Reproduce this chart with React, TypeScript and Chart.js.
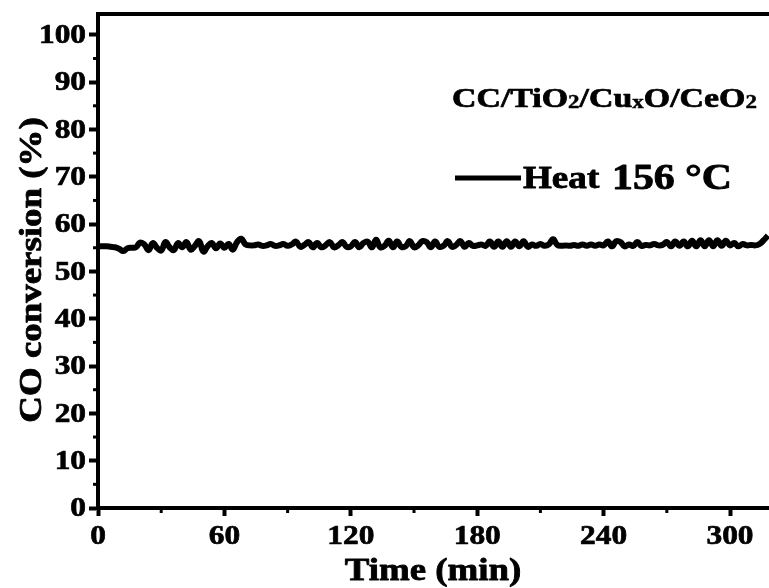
import React, { useEffect, useRef } from "react";
import { Chart, registerables } from "chart.js";

Chart.register(...registerables);

// ---- data ----
const times = [
  0, 2, 4, 6, 8, 10, 12, 14, 16, 18, 20, 22, 24, 26, 28, 30, 32, 34, 36, 38,
  40, 42, 44, 46, 48, 50, 52, 54, 56, 58, 60, 62, 64, 66, 68, 70, 72, 74, 76, 78,
  80, 82, 84, 86, 88, 90, 92, 94, 96, 98, 100, 102, 104, 106, 108, 110, 112, 114, 116, 118,
  120, 122, 124, 126, 128, 130, 132, 134, 136, 138, 140, 142, 144, 146, 148, 150, 152, 154, 156, 158,
  160, 162, 164, 166, 168, 170, 172, 174, 176, 178, 180, 182, 184, 186, 188, 190, 192, 194, 196, 198,
  200, 202, 204, 206, 208, 210, 212, 214, 216, 218, 220, 222, 224, 226, 228, 230, 232, 234, 236, 238,
  240, 242, 244, 246, 248, 250, 252, 254, 256, 258, 260, 262, 264, 266, 268, 270, 272, 274, 276, 278,
  280, 282, 284, 286, 288, 290, 292, 294, 296, 298, 300, 302, 304, 306, 308, 310, 312, 314, 316, 318,
];

const conversion = [
  55.3, 55.3, 55.3, 55.2, 55.1, 54.8, 54.3, 54.9, 55.0, 55.1,
  56.1, 55.7, 54.5, 56.0, 55.0, 54.4, 56.2, 55.1, 54.5, 56.0,
  55.1, 56.2, 54.6, 55.4, 56.4, 54.2, 55.3, 56.0, 54.9, 55.9,
  55.0, 55.8, 54.6, 56.2, 56.9, 55.7, 55.5, 55.5, 55.7, 55.4,
  55.5, 55.8, 55.4, 55.5, 55.8, 55.4, 55.7, 56.3, 55.2, 55.6,
  56.2, 55.1, 56.0, 55.1, 55.5, 56.2, 55.1, 55.5, 56.2, 55.2,
  55.3, 56.2, 55.1, 56.0, 56.3, 55.1, 56.7, 55.1, 55.4, 56.5,
  55.1, 56.3, 55.2, 55.3, 56.4, 55.1, 55.5, 56.4, 56.2, 55.1,
  56.3, 55.2, 55.4, 56.4, 55.2, 55.6, 56.4, 55.2, 56.0, 55.4,
  55.5, 55.7, 55.4, 56.3, 55.2, 56.3, 55.2, 56.4, 55.2, 56.3,
  55.3, 56.4, 55.2, 55.7, 55.4, 55.8, 55.4, 55.7, 56.8, 55.6,
  55.4, 55.5, 55.4, 55.6, 55.4, 55.7, 55.4, 55.7, 55.4, 55.7,
  55.5, 56.3, 55.3, 56.4, 56.2, 55.3, 55.7, 55.4, 56.2, 55.4,
  55.6, 55.5, 55.8, 55.5, 55.6, 56.2, 55.3, 56.3, 55.4, 56.3,
  55.3, 56.5, 55.3, 56.6, 55.3, 56.6, 55.3, 56.6, 55.4, 56.5,
  55.5, 56.0, 55.3, 55.8, 55.5, 55.6, 55.5, 55.8, 56.6, 57.6,
];

const xMinorTicks = [30, 90, 150, 210, 270];
const yMinorTicks = [5, 15, 25, 35, 45, 55, 65, 75, 85, 95];
const X_MIN = 0;
const X_MAX = 318.5;
const Y_MIN = 0;
const Y_MAX = 104.4;
const X_STEP = 60;
const Y_STEP = 10;

const xTitle = "Time (min)";
const yTitle = "CO conversion (%)";
const seriesName = "Heat";
const seriesTemp = "156 °C";
const titleParts: [string, boolean][] = [
  ["CC/TiO", false],
  ["2", true],
  ["/Cu", false],
  ["x", true],
  ["O/CeO", false],
  ["2", true],
];

const FONT = "'Liberation Serif', 'Times New Roman', serif";

function stretchText(
  ctx: CanvasRenderingContext2D,
  text: string,
  x: number,
  y: number,
  size: number,
  align: CanvasTextAlign,
  stretch: number,
  baseline: CanvasTextBaseline = "alphabetic",
  rotate = false
) {
  ctx.save();
  ctx.translate(x, y);
  if (rotate) ctx.rotate(-Math.PI / 2);
  ctx.scale(stretch, 1);
  ctx.font = `bold ${size}px ${FONT}`;
  ctx.textAlign = align;
  ctx.textBaseline = baseline;
  ctx.fillStyle = "#000";
  ctx.strokeStyle = "#000";
  ctx.lineWidth = size * 0.025;
  ctx.lineJoin = "round";
  ctx.fillText(text, 0, 0);
  ctx.strokeText(text, 0, 0);
  ctx.restore();
}

const decorPlugin = {
  id: "decor",
  afterDraw(chart: any) {
    const ctx: CanvasRenderingContext2D = chart.ctx;
    const area = chart.chartArea;
    const xs = chart.scales.x;
    const ys = chart.scales.y;
    ctx.save();
    ctx.strokeStyle = "#000";
    ctx.lineCap = "butt";

    // top frame line
    ctx.lineWidth = 4;
    ctx.beginPath();
    ctx.moveTo(area.left - 2, area.top);
    ctx.lineTo(area.right, area.top);
    ctx.stroke();

    // minor ticks
    ctx.lineWidth = 3;
    for (const v of yMinorTicks) {
      const py = ys.getPixelForValue(v);
      ctx.beginPath();
      ctx.moveTo(area.left - 5, py);
      ctx.lineTo(area.left, py);
      ctx.stroke();
    }
    for (const v of xMinorTicks) {
      const px = xs.getPixelForValue(v);
      ctx.beginPath();
      ctx.moveTo(px, area.bottom);
      ctx.lineTo(px, area.bottom + 5);
      ctx.stroke();
    }

    // tick labels
    for (const t of ys.ticks) {
      const py = ys.getPixelForValue(t.value);
      stretchText(ctx, String(t.value), area.left - 12, py + 1, 28, "right", 1.12, "middle");
    }
    for (const t of xs.ticks) {
      const px = xs.getPixelForValue(t.value);
      stretchText(ctx, String(t.value), px, area.bottom + 29, 28, "center", 1.12, "middle");
    }

    // axis titles
    stretchText(ctx, xTitle, 433, 580, 31, "center", 1.19);
    stretchText(ctx, yTitle, 41, 270, 31, "center", 1.19, "alphabetic", true);

    // title with subscripts
    let tx = 452;
    const ty = 107;
    const stretch = 1.21;
    for (const [txt, sub] of titleParts) {
      const size = sub ? 19 : 28;
      ctx.font = `bold ${size}px ${FONT}`;
      const w = ctx.measureText(txt).width * stretch;
      stretchText(ctx, txt, tx, ty + (sub ? 1 : 0), size, "left", stretch);
      tx += w;
    }

    // legend
    ctx.lineWidth = 5;
    ctx.beginPath();
    ctx.moveTo(455, 178);
    ctx.lineTo(521, 178);
    ctx.stroke();
    stretchText(ctx, seriesName, 523, 188, 32, "left", 1.16);
    stretchText(ctx, seriesTemp, 612, 189, 36, "left", 1.16);

    ctx.restore();
  },
};

export default function App() {
  const ref = useRef<HTMLCanvasElement>(null);

  useEffect(() => {
    if (!ref.current) return;
    const points = times.map((t, i) => ({ x: t, y: conversion[i] }));
    const chart = new Chart(ref.current, {
      type: "line",
      data: {
        datasets: [
          {
            label: seriesName,
            data: points,
            borderColor: "#000",
            borderWidth: 6,
            pointRadius: 0,
            tension: 0.45,
            fill: false,
          },
        ],
      },
      options: {
        animation: false,
        responsive: false,
        maintainAspectRatio: false,
        devicePixelRatio: 1,
        layout: { padding: { top: 14, left: 0, right: 0, bottom: 0 } },
        plugins: { legend: { display: false }, tooltip: { enabled: false } },
        scales: {
          x: {
            type: "linear",
            min: X_MIN,
            max: X_MAX,
            ticks: { stepSize: X_STEP, includeBounds: false, display: false },
            grid: {
              drawOnChartArea: false,
              drawTicks: true,
              tickLength: 8,
              tickWidth: 4,
              tickColor: "#000",
            },
            border: { display: true, width: 4, color: "#000" },
            afterFit: (s: any) => {
              s.height = 80;
            },
          },
          y: {
            type: "linear",
            min: Y_MIN,
            max: Y_MAX,
            ticks: { stepSize: Y_STEP, includeBounds: false, display: false },
            grid: {
              drawOnChartArea: false,
              drawTicks: true,
              tickLength: 9,
              tickWidth: 4,
              tickColor: "#000",
            },
            border: { display: true, width: 4, color: "#000" },
            afterFit: (s: any) => {
              s.width = 98;
            },
          },
        },
      },
      plugins: [decorPlugin],
    });
    return () => chart.destroy();
  }, []);

  return (
    <div
      style={{
        position: "fixed",
        left: 0,
        top: 0,
        width: 769,
        height: 588,
        background: "#fff",
      }}
    >
      <canvas ref={ref} width={769} height={588} style={{ display: "block" }} />
    </div>
  );
}
